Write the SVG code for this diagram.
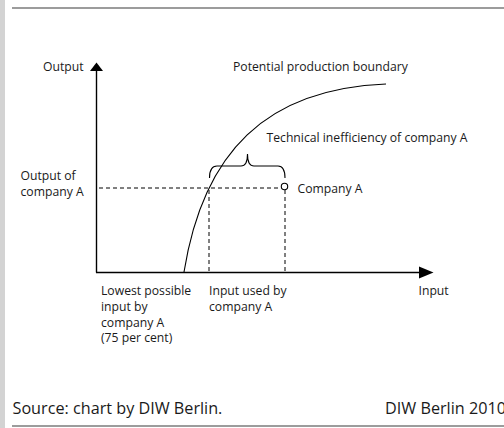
<svg xmlns="http://www.w3.org/2000/svg" width="504" height="428" viewBox="0 0 504 428">
<style>
text{font-family:"Open Sans","Noto Sans","Liberation Sans",sans-serif;font-size:12.2px;fill:#1a1a1a}
.foot{font-size:16.2px}
.axis{stroke:#000;stroke-width:1.4;fill:none}
.dash{stroke:#000;stroke-width:1;stroke-dasharray:4 3;fill:none}
.thin{stroke:#000;stroke-width:1.1;fill:none}
.rule{stroke:#3a3a3a;stroke-width:1.2}
</style>
<rect x="0" y="0" width="504" height="428" fill="#fff"/>
<rect x="0" y="0" width="5" height="428" fill="#d3d3d3"/>
<line class="rule" x1="12" y1="8" x2="504" y2="8"/>
<line class="rule" x1="12" y1="426" x2="504" y2="426"/>
<g id="connectors">
<line class="axis" x1="96.5" y1="70" x2="96.5" y2="272.5"/>
<polygon points="96.5,62.5 90,71 103,71" fill="#000"/>
<line class="axis" x1="96" y1="272.5" x2="420" y2="272.5"/>
<polygon points="433.5,272.5 419,266.5 419,278.5" fill="#000"/>
<path class="thin" d="M184,272 C203.2,152 266,88.8 386,84"/>
<line class="dash" x1="99" y1="188" x2="281" y2="188"/>
<line class="dash" x1="209" y1="190" x2="209" y2="272"/>
<line class="dash" x1="285" y1="190" x2="285" y2="272"/>
<path class="thin" d="M209.5,178 C209.5,170 211.5,166 217,166 L241,166 C245.5,166 247.5,162 247.5,154 C247.5,162 249.5,166 254,166 L278,166 C283,166 285,170 285,178"/>
</g>
<g id="company-a">
<circle cx="284.5" cy="186.5" r="3.2" fill="#fff" stroke="#000" stroke-width="1.1"/>
<text x="297.5" y="193">Company A</text>
</g>
<g id="labels">
<text x="43" y="71">Output</text>
<text x="233" y="71">Potential production boundary</text>
<text x="266.5" y="141.5">Technical inefficiency of company A</text>
<text x="20.5" y="179.5">Output of</text>
<text x="20.5" y="196">company A</text>
<text x="101" y="295">Lowest possible</text>
<text x="101" y="310.7">input by</text>
<text x="101" y="326.5">company A</text>
<text x="101" y="342">(75 per cent)</text>
<text x="209" y="295">Input used by</text>
<text x="209" y="310.7">company A</text>
<text x="418.5" y="295">Input</text>
</g>
<g id="footer">
<text class="foot" x="12.5" y="414">Source: chart by DIW Berlin.</text>
<text class="foot" x="385" y="414">DIW Berlin 2010</text>
</g>
</svg>
